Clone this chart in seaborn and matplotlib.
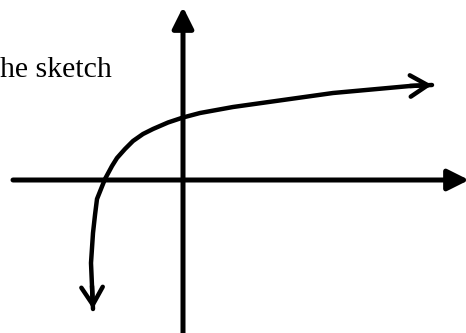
import numpy as np
import pandas as pd
import matplotlib
matplotlib.use("Agg")
import matplotlib.pyplot as plt
import seaborn as sns

# --------------------------------------------------
# Data: hand-drawn curve (origin at the axes crossing)
# --------------------------------------------------
curve_x = [-9.0, -9.1, -9.2, -9.0, -8.8, -8.6, -8.2, -7.8, -7.1, -6.6, -5.8,
           -5.0, -4.0, -3.0, -1.5, 0.0, 1.7, 5.0, 10.0, 15.0, 22.7, 24.9]
curve_y = [-12.9, -10.6, -8.3, -5.3, -3.5, -1.9, -0.9, 0.1, 1.4, 2.2, 3.1,
           3.9, 4.6, 5.1, 5.75, 6.25, 6.7, 7.3, 8.0, 8.7, 9.4, 9.5]

x_axis_ends = [-17.0, 28.6]
y_axis_ends = [-15.6, 17.3]

caption = "he sketch"

df = pd.DataFrame({"x": curve_x, "y": curve_y})

# --------------------------------------------------
# Figure
# --------------------------------------------------
sns.set_style("white")
fig = plt.figure(figsize=(4.66, 3.33), dpi=100)
ax = fig.add_axes([0, 0, 1, 1])
ax.set_xlim(-18.3, 28.3)
ax.set_ylim(-15.3, 18.0)
ax.axis("off")

# axes with filled arrow heads
ax.annotate("", xy=(x_axis_ends[1], 0), xytext=(x_axis_ends[0], 0),
            annotation_clip=False,
            arrowprops=dict(arrowstyle="-|>", lw=3.6, color="black",
                            mutation_scale=32, shrinkA=0, shrinkB=0))
ax.annotate("", xy=(0, y_axis_ends[1]), xytext=(0, y_axis_ends[0]),
            annotation_clip=False,
            arrowprops=dict(arrowstyle="-|>", lw=3.6, color="black",
                            mutation_scale=32, shrinkA=0, shrinkB=0))

# the curve
sns.lineplot(data=df, x="x", y="y", sort=False, estimator=None, ax=ax,
             color="black", lw=3.2, solid_joinstyle="round", solid_capstyle="round")

# open arrow heads at both ends of the curve
for i0, i1 in [(1, 0), (-2, -1)]:
    ax.annotate("", xy=(curve_x[i1], curve_y[i1]), xytext=(curve_x[i0], curve_y[i0]),
                annotation_clip=False,
                arrowprops=dict(arrowstyle="->,head_length=0.9,head_width=0.55",
                                lw=3.2, color="black", mutation_scale=14,
                                shrinkA=0, shrinkB=0))

ax.set_xlabel("")
ax.set_ylabel("")

ax.text(-18.3, 10.3, caption, fontfamily="Liberation Serif", fontsize=21.5,
        ha="left", va="baseline", color="black")

fig.savefig("out.png", dpi=100)
